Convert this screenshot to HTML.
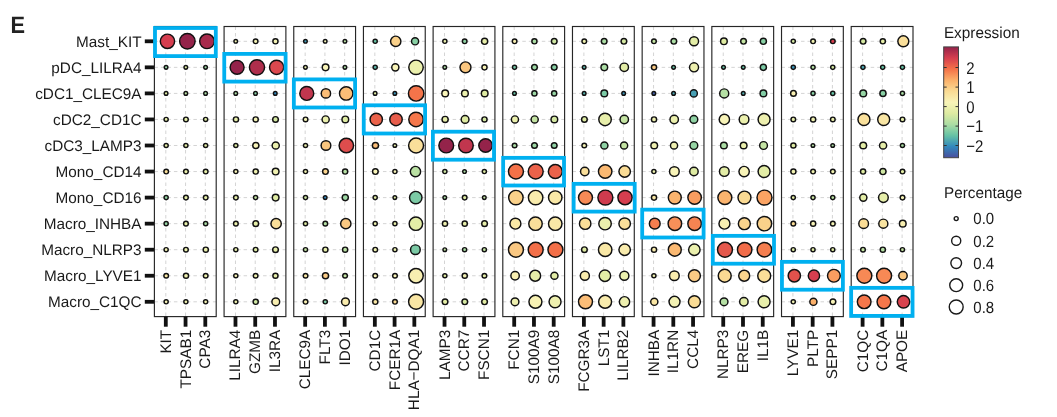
<!DOCTYPE html><html><head><meta charset="utf-8"><style>html,body{margin:0;padding:0;background:#fff;width:1057px;height:417px;overflow:hidden}svg{display:block;will-change:transform}text{font-family:"Liberation Sans",sans-serif;text-rendering:geometricPrecision}</style></head><body>
<svg width="1057" height="417" viewBox="0 0 1057 417">
<text transform="translate(10.60,33.40) scale(0.915,1)" font-size="23.8" font-weight="bold" fill="#222">E</text>
<text transform="translate(141.50,46.70)" font-size="15.3" text-anchor="end" fill="#1a1a1a">Mast_KIT</text>
<rect x="144.8" y="39.40" width="9.6" height="3.8" fill="#111"/>
<text transform="translate(141.50,72.75)" font-size="15.3" text-anchor="end" fill="#1a1a1a">pDC_LILRA4</text>
<rect x="144.8" y="65.45" width="9.6" height="3.8" fill="#111"/>
<text transform="translate(141.50,98.80)" font-size="15.3" text-anchor="end" fill="#1a1a1a">cDC1_CLEC9A</text>
<rect x="144.8" y="91.50" width="9.6" height="3.8" fill="#111"/>
<text transform="translate(141.50,124.85)" font-size="15.3" text-anchor="end" fill="#1a1a1a">cDC2_CD1C</text>
<rect x="144.8" y="117.55" width="9.6" height="3.8" fill="#111"/>
<text transform="translate(141.50,150.90)" font-size="15.3" text-anchor="end" fill="#1a1a1a">cDC3_LAMP3</text>
<rect x="144.8" y="143.60" width="9.6" height="3.8" fill="#111"/>
<text transform="translate(141.50,176.95)" font-size="15.3" text-anchor="end" fill="#1a1a1a">Mono_CD14</text>
<rect x="144.8" y="169.65" width="9.6" height="3.8" fill="#111"/>
<text transform="translate(141.50,203.00)" font-size="15.3" text-anchor="end" fill="#1a1a1a">Mono_CD16</text>
<rect x="144.8" y="195.70" width="9.6" height="3.8" fill="#111"/>
<text transform="translate(141.50,229.05)" font-size="15.3" text-anchor="end" fill="#1a1a1a">Macro_INHBA</text>
<rect x="144.8" y="221.75" width="9.6" height="3.8" fill="#111"/>
<text transform="translate(141.50,255.10)" font-size="15.3" text-anchor="end" fill="#1a1a1a">Macro_NLRP3</text>
<rect x="144.8" y="247.80" width="9.6" height="3.8" fill="#111"/>
<text transform="translate(141.50,281.15)" font-size="15.3" text-anchor="end" fill="#1a1a1a">Macro_LYVE1</text>
<rect x="144.8" y="273.85" width="9.6" height="3.8" fill="#111"/>
<text transform="translate(141.50,307.20)" font-size="15.3" text-anchor="end" fill="#1a1a1a">Macro_C1QC</text>
<rect x="144.8" y="299.90" width="9.6" height="3.8" fill="#111"/>
<line x1="165.80" y1="26.5" x2="165.80" y2="316.6" stroke="#d4d4d4" stroke-width="1" stroke-dasharray="3.5 3"/>
<line x1="185.55" y1="26.5" x2="185.55" y2="316.6" stroke="#d4d4d4" stroke-width="1" stroke-dasharray="3.5 3"/>
<line x1="205.30" y1="26.5" x2="205.30" y2="316.6" stroke="#d4d4d4" stroke-width="1" stroke-dasharray="3.5 3"/>
<line x1="154.40" y1="41.30" x2="216.20" y2="41.30" stroke="#d4d4d4" stroke-width="1" stroke-dasharray="3.5 3"/>
<line x1="154.40" y1="67.35" x2="216.20" y2="67.35" stroke="#d4d4d4" stroke-width="1" stroke-dasharray="3.5 3"/>
<line x1="154.40" y1="93.40" x2="216.20" y2="93.40" stroke="#d4d4d4" stroke-width="1" stroke-dasharray="3.5 3"/>
<line x1="154.40" y1="119.45" x2="216.20" y2="119.45" stroke="#d4d4d4" stroke-width="1" stroke-dasharray="3.5 3"/>
<line x1="154.40" y1="145.50" x2="216.20" y2="145.50" stroke="#d4d4d4" stroke-width="1" stroke-dasharray="3.5 3"/>
<line x1="154.40" y1="171.55" x2="216.20" y2="171.55" stroke="#d4d4d4" stroke-width="1" stroke-dasharray="3.5 3"/>
<line x1="154.40" y1="197.60" x2="216.20" y2="197.60" stroke="#d4d4d4" stroke-width="1" stroke-dasharray="3.5 3"/>
<line x1="154.40" y1="223.65" x2="216.20" y2="223.65" stroke="#d4d4d4" stroke-width="1" stroke-dasharray="3.5 3"/>
<line x1="154.40" y1="249.70" x2="216.20" y2="249.70" stroke="#d4d4d4" stroke-width="1" stroke-dasharray="3.5 3"/>
<line x1="154.40" y1="275.75" x2="216.20" y2="275.75" stroke="#d4d4d4" stroke-width="1" stroke-dasharray="3.5 3"/>
<line x1="154.40" y1="301.80" x2="216.20" y2="301.80" stroke="#d4d4d4" stroke-width="1" stroke-dasharray="3.5 3"/>
<circle cx="167.46" cy="41.30" r="7.17" fill="#d53e4f" stroke="#111" stroke-width="1.45"/>
<circle cx="187.36" cy="41.30" r="7.73" fill="#94234a" stroke="#111" stroke-width="1.45"/>
<circle cx="207.00" cy="41.30" r="7.33" fill="#a82b4c" stroke="#111" stroke-width="1.45"/>
<circle cx="166.07" cy="67.35" r="1.82" fill="#96d5a4" stroke="#111" stroke-width="1.45"/>
<circle cx="185.82" cy="67.35" r="1.82" fill="#deeba2" stroke="#111" stroke-width="1.45"/>
<circle cx="205.57" cy="67.35" r="1.82" fill="#9dd8a4" stroke="#111" stroke-width="1.45"/>
<circle cx="166.07" cy="93.40" r="1.82" fill="#deeba2" stroke="#111" stroke-width="1.45"/>
<circle cx="185.82" cy="93.40" r="1.82" fill="#bae1a3" stroke="#111" stroke-width="1.45"/>
<circle cx="205.57" cy="93.40" r="1.82" fill="#abdda4" stroke="#111" stroke-width="1.45"/>
<circle cx="166.14" cy="119.45" r="2.07" fill="#e6eea9" stroke="#111" stroke-width="1.45"/>
<circle cx="185.95" cy="119.45" r="2.32" fill="#e3eda6" stroke="#111" stroke-width="1.45"/>
<circle cx="205.64" cy="119.45" r="2.07" fill="#deeba2" stroke="#111" stroke-width="1.45"/>
<circle cx="166.14" cy="145.50" r="2.07" fill="#e6eea9" stroke="#111" stroke-width="1.45"/>
<circle cx="185.89" cy="145.50" r="2.07" fill="#e3eda6" stroke="#111" stroke-width="1.45"/>
<circle cx="205.64" cy="145.50" r="2.07" fill="#e3eda6" stroke="#111" stroke-width="1.45"/>
<circle cx="166.20" cy="171.55" r="2.32" fill="#fadf9a" stroke="#111" stroke-width="1.45"/>
<circle cx="185.95" cy="171.55" r="2.32" fill="#ebf0ad" stroke="#111" stroke-width="1.45"/>
<circle cx="205.70" cy="171.55" r="2.32" fill="#e6eea9" stroke="#111" stroke-width="1.45"/>
<circle cx="166.14" cy="197.60" r="2.07" fill="#96d5a4" stroke="#111" stroke-width="1.45"/>
<circle cx="185.95" cy="197.60" r="2.32" fill="#e6eea9" stroke="#111" stroke-width="1.45"/>
<circle cx="205.70" cy="197.60" r="2.32" fill="#e6eea9" stroke="#111" stroke-width="1.45"/>
<circle cx="166.14" cy="223.65" r="2.07" fill="#96d5a4" stroke="#111" stroke-width="1.45"/>
<circle cx="185.95" cy="223.65" r="2.32" fill="#e6eea9" stroke="#111" stroke-width="1.45"/>
<circle cx="205.64" cy="223.65" r="2.07" fill="#abdda4" stroke="#111" stroke-width="1.45"/>
<circle cx="166.14" cy="249.70" r="2.07" fill="#f3f2b4" stroke="#111" stroke-width="1.45"/>
<circle cx="185.95" cy="249.70" r="2.32" fill="#ebf0ad" stroke="#111" stroke-width="1.45"/>
<circle cx="205.77" cy="249.70" r="2.57" fill="#ebf0ad" stroke="#111" stroke-width="1.45"/>
<circle cx="166.20" cy="275.75" r="2.32" fill="#f9e8a6" stroke="#111" stroke-width="1.45"/>
<circle cx="186.02" cy="275.75" r="2.57" fill="#eef0af" stroke="#111" stroke-width="1.45"/>
<circle cx="205.70" cy="275.75" r="2.32" fill="#ebf0ad" stroke="#111" stroke-width="1.45"/>
<circle cx="166.14" cy="301.80" r="2.07" fill="#f8f4b8" stroke="#111" stroke-width="1.45"/>
<circle cx="185.89" cy="301.80" r="2.07" fill="#eef0af" stroke="#111" stroke-width="1.45"/>
<circle cx="205.64" cy="301.80" r="2.07" fill="#f3f2b4" stroke="#111" stroke-width="1.45"/>
<rect x="154.40" y="26.5" width="61.8" height="290.1" fill="none" stroke="#262626" stroke-width="1.15"/>
<rect x="163.90" y="316.6" width="3.8" height="10.1" fill="#111"/>
<text transform="translate(170.80,329.80) rotate(-90)" font-size="15.3" text-anchor="end" fill="#1a1a1a">KIT</text>
<rect x="183.65" y="316.6" width="3.8" height="10.1" fill="#111"/>
<text transform="translate(190.55,329.80) rotate(-90)" font-size="15.3" text-anchor="end" fill="#1a1a1a">TPSAB1</text>
<rect x="203.40" y="316.6" width="3.8" height="10.1" fill="#111"/>
<text transform="translate(210.30,329.80) rotate(-90)" font-size="15.3" text-anchor="end" fill="#1a1a1a">CPA3</text>
<line x1="235.48" y1="26.5" x2="235.48" y2="316.6" stroke="#d4d4d4" stroke-width="1" stroke-dasharray="3.5 3"/>
<line x1="255.23" y1="26.5" x2="255.23" y2="316.6" stroke="#d4d4d4" stroke-width="1" stroke-dasharray="3.5 3"/>
<line x1="274.98" y1="26.5" x2="274.98" y2="316.6" stroke="#d4d4d4" stroke-width="1" stroke-dasharray="3.5 3"/>
<line x1="224.08" y1="41.30" x2="285.88" y2="41.30" stroke="#d4d4d4" stroke-width="1" stroke-dasharray="3.5 3"/>
<line x1="224.08" y1="67.35" x2="285.88" y2="67.35" stroke="#d4d4d4" stroke-width="1" stroke-dasharray="3.5 3"/>
<line x1="224.08" y1="93.40" x2="285.88" y2="93.40" stroke="#d4d4d4" stroke-width="1" stroke-dasharray="3.5 3"/>
<line x1="224.08" y1="119.45" x2="285.88" y2="119.45" stroke="#d4d4d4" stroke-width="1" stroke-dasharray="3.5 3"/>
<line x1="224.08" y1="145.50" x2="285.88" y2="145.50" stroke="#d4d4d4" stroke-width="1" stroke-dasharray="3.5 3"/>
<line x1="224.08" y1="171.55" x2="285.88" y2="171.55" stroke="#d4d4d4" stroke-width="1" stroke-dasharray="3.5 3"/>
<line x1="224.08" y1="197.60" x2="285.88" y2="197.60" stroke="#d4d4d4" stroke-width="1" stroke-dasharray="3.5 3"/>
<line x1="224.08" y1="223.65" x2="285.88" y2="223.65" stroke="#d4d4d4" stroke-width="1" stroke-dasharray="3.5 3"/>
<line x1="224.08" y1="249.70" x2="285.88" y2="249.70" stroke="#d4d4d4" stroke-width="1" stroke-dasharray="3.5 3"/>
<line x1="224.08" y1="275.75" x2="285.88" y2="275.75" stroke="#d4d4d4" stroke-width="1" stroke-dasharray="3.5 3"/>
<line x1="224.08" y1="301.80" x2="285.88" y2="301.80" stroke="#d4d4d4" stroke-width="1" stroke-dasharray="3.5 3"/>
<circle cx="235.75" cy="41.30" r="1.82" fill="#f0f1b1" stroke="#111" stroke-width="1.45"/>
<circle cx="255.63" cy="41.30" r="2.32" fill="#f3f2b4" stroke="#111" stroke-width="1.45"/>
<circle cx="275.45" cy="41.30" r="2.57" fill="#f3f2b4" stroke="#111" stroke-width="1.45"/>
<circle cx="237.09" cy="67.35" r="6.98" fill="#94234a" stroke="#111" stroke-width="1.45"/>
<circle cx="257.00" cy="67.35" r="7.58" fill="#ae2e4c" stroke="#111" stroke-width="1.45"/>
<circle cx="276.62" cy="67.35" r="7.08" fill="#db484e" stroke="#111" stroke-width="1.45"/>
<circle cx="235.75" cy="93.40" r="1.82" fill="#abdda4" stroke="#111" stroke-width="1.45"/>
<circle cx="255.50" cy="93.40" r="1.82" fill="#88d0a4" stroke="#111" stroke-width="1.45"/>
<circle cx="275.25" cy="93.40" r="1.82" fill="#3288bd" stroke="#111" stroke-width="1.45"/>
<circle cx="235.95" cy="119.45" r="2.57" fill="#e6eea9" stroke="#111" stroke-width="1.45"/>
<circle cx="255.70" cy="119.45" r="2.57" fill="#f3f2b4" stroke="#111" stroke-width="1.45"/>
<circle cx="275.51" cy="119.45" r="2.82" fill="#d4e8a2" stroke="#111" stroke-width="1.45"/>
<circle cx="235.82" cy="145.50" r="2.07" fill="#deeba2" stroke="#111" stroke-width="1.45"/>
<circle cx="255.83" cy="145.50" r="3.07" fill="#f8f4b8" stroke="#111" stroke-width="1.45"/>
<circle cx="275.71" cy="145.50" r="3.57" fill="#ebf0ad" stroke="#111" stroke-width="1.45"/>
<circle cx="235.82" cy="171.55" r="2.07" fill="#f8f4b8" stroke="#111" stroke-width="1.45"/>
<circle cx="255.70" cy="171.55" r="2.57" fill="#eef0af" stroke="#111" stroke-width="1.45"/>
<circle cx="275.64" cy="171.55" r="3.32" fill="#f0f1b1" stroke="#111" stroke-width="1.45"/>
<circle cx="235.88" cy="197.60" r="2.32" fill="#e6eea9" stroke="#111" stroke-width="1.45"/>
<circle cx="255.57" cy="197.60" r="2.07" fill="#c4e4a3" stroke="#111" stroke-width="1.45"/>
<circle cx="275.64" cy="197.60" r="3.32" fill="#deeba2" stroke="#111" stroke-width="1.45"/>
<circle cx="235.88" cy="223.65" r="2.32" fill="#ebf0ad" stroke="#111" stroke-width="1.45"/>
<circle cx="255.76" cy="223.65" r="2.82" fill="#e3eda6" stroke="#111" stroke-width="1.45"/>
<circle cx="276.12" cy="223.65" r="5.16" fill="#fadf9a" stroke="#111" stroke-width="1.45"/>
<circle cx="235.82" cy="249.70" r="2.07" fill="#e6eea9" stroke="#111" stroke-width="1.45"/>
<circle cx="255.63" cy="249.70" r="2.32" fill="#deeba2" stroke="#111" stroke-width="1.45"/>
<circle cx="275.51" cy="249.70" r="2.82" fill="#e6eea9" stroke="#111" stroke-width="1.45"/>
<circle cx="235.82" cy="275.75" r="2.07" fill="#f8f4b8" stroke="#111" stroke-width="1.45"/>
<circle cx="255.63" cy="275.75" r="2.32" fill="#eef0af" stroke="#111" stroke-width="1.45"/>
<circle cx="275.45" cy="275.75" r="2.57" fill="#e6eea9" stroke="#111" stroke-width="1.45"/>
<circle cx="235.82" cy="301.80" r="2.07" fill="#eef0af" stroke="#111" stroke-width="1.45"/>
<circle cx="255.70" cy="301.80" r="2.57" fill="#cfe7a3" stroke="#111" stroke-width="1.45"/>
<circle cx="275.79" cy="301.80" r="3.89" fill="#f8efb1" stroke="#111" stroke-width="1.45"/>
<rect x="224.08" y="26.5" width="61.8" height="290.1" fill="none" stroke="#262626" stroke-width="1.15"/>
<rect x="233.58" y="316.6" width="3.8" height="10.1" fill="#111"/>
<text transform="translate(240.48,329.80) rotate(-90)" font-size="15.3" text-anchor="end" fill="#1a1a1a">LILRA4</text>
<rect x="253.33" y="316.6" width="3.8" height="10.1" fill="#111"/>
<text transform="translate(260.23,329.80) rotate(-90)" font-size="15.3" text-anchor="end" fill="#1a1a1a">GZMB</text>
<rect x="273.08" y="316.6" width="3.8" height="10.1" fill="#111"/>
<text transform="translate(279.98,329.80) rotate(-90)" font-size="15.3" text-anchor="end" fill="#1a1a1a">IL3RA</text>
<line x1="305.16" y1="26.5" x2="305.16" y2="316.6" stroke="#d4d4d4" stroke-width="1" stroke-dasharray="3.5 3"/>
<line x1="324.91" y1="26.5" x2="324.91" y2="316.6" stroke="#d4d4d4" stroke-width="1" stroke-dasharray="3.5 3"/>
<line x1="344.66" y1="26.5" x2="344.66" y2="316.6" stroke="#d4d4d4" stroke-width="1" stroke-dasharray="3.5 3"/>
<line x1="293.76" y1="41.30" x2="355.56" y2="41.30" stroke="#d4d4d4" stroke-width="1" stroke-dasharray="3.5 3"/>
<line x1="293.76" y1="67.35" x2="355.56" y2="67.35" stroke="#d4d4d4" stroke-width="1" stroke-dasharray="3.5 3"/>
<line x1="293.76" y1="93.40" x2="355.56" y2="93.40" stroke="#d4d4d4" stroke-width="1" stroke-dasharray="3.5 3"/>
<line x1="293.76" y1="119.45" x2="355.56" y2="119.45" stroke="#d4d4d4" stroke-width="1" stroke-dasharray="3.5 3"/>
<line x1="293.76" y1="145.50" x2="355.56" y2="145.50" stroke="#d4d4d4" stroke-width="1" stroke-dasharray="3.5 3"/>
<line x1="293.76" y1="171.55" x2="355.56" y2="171.55" stroke="#d4d4d4" stroke-width="1" stroke-dasharray="3.5 3"/>
<line x1="293.76" y1="197.60" x2="355.56" y2="197.60" stroke="#d4d4d4" stroke-width="1" stroke-dasharray="3.5 3"/>
<line x1="293.76" y1="223.65" x2="355.56" y2="223.65" stroke="#d4d4d4" stroke-width="1" stroke-dasharray="3.5 3"/>
<line x1="293.76" y1="249.70" x2="355.56" y2="249.70" stroke="#d4d4d4" stroke-width="1" stroke-dasharray="3.5 3"/>
<line x1="293.76" y1="275.75" x2="355.56" y2="275.75" stroke="#d4d4d4" stroke-width="1" stroke-dasharray="3.5 3"/>
<line x1="293.76" y1="301.80" x2="355.56" y2="301.80" stroke="#d4d4d4" stroke-width="1" stroke-dasharray="3.5 3"/>
<circle cx="305.43" cy="41.30" r="1.82" fill="#4299b6" stroke="#111" stroke-width="1.45"/>
<circle cx="325.18" cy="41.30" r="1.82" fill="#f3f2b4" stroke="#111" stroke-width="1.45"/>
<circle cx="344.93" cy="41.30" r="1.82" fill="#bae1a3" stroke="#111" stroke-width="1.45"/>
<circle cx="305.43" cy="67.35" r="1.82" fill="#ebf0ad" stroke="#111" stroke-width="1.45"/>
<circle cx="325.57" cy="67.35" r="3.32" fill="#f8f4b8" stroke="#111" stroke-width="1.45"/>
<circle cx="344.93" cy="67.35" r="1.82" fill="#abdda4" stroke="#111" stroke-width="1.45"/>
<circle cx="306.77" cy="93.40" r="6.98" fill="#c1364e" stroke="#111" stroke-width="1.45"/>
<circle cx="325.92" cy="93.40" r="4.67" fill="#fbbd77" stroke="#111" stroke-width="1.45"/>
<circle cx="346.21" cy="93.40" r="6.73" fill="#fbbd77" stroke="#111" stroke-width="1.45"/>
<circle cx="305.56" cy="119.45" r="2.32" fill="#f3f2b4" stroke="#111" stroke-width="1.45"/>
<circle cx="325.64" cy="119.45" r="3.57" fill="#ebf0ad" stroke="#111" stroke-width="1.45"/>
<circle cx="345.32" cy="119.45" r="3.32" fill="#deeba2" stroke="#111" stroke-width="1.45"/>
<circle cx="305.50" cy="145.50" r="2.07" fill="#ebf0ad" stroke="#111" stroke-width="1.45"/>
<circle cx="325.97" cy="145.50" r="4.84" fill="#fac67f" stroke="#111" stroke-width="1.45"/>
<circle cx="346.34" cy="145.50" r="7.23" fill="#de4d4d" stroke="#111" stroke-width="1.45"/>
<circle cx="305.50" cy="171.55" r="2.07" fill="#f0f1b1" stroke="#111" stroke-width="1.45"/>
<circle cx="325.44" cy="171.55" r="2.82" fill="#fad48d" stroke="#111" stroke-width="1.45"/>
<circle cx="345.13" cy="171.55" r="2.57" fill="#b5e0a4" stroke="#111" stroke-width="1.45"/>
<circle cx="305.50" cy="197.60" r="2.07" fill="#cfe7a3" stroke="#111" stroke-width="1.45"/>
<circle cx="325.18" cy="197.60" r="1.82" fill="#3288bd" stroke="#111" stroke-width="1.45"/>
<circle cx="345.26" cy="197.60" r="3.07" fill="#9dd8a4" stroke="#111" stroke-width="1.45"/>
<circle cx="305.50" cy="223.65" r="2.07" fill="#deeba2" stroke="#111" stroke-width="1.45"/>
<circle cx="325.31" cy="223.65" r="2.32" fill="#b5e0a4" stroke="#111" stroke-width="1.45"/>
<circle cx="345.80" cy="223.65" r="5.16" fill="#fac882" stroke="#111" stroke-width="1.45"/>
<circle cx="305.50" cy="249.70" r="2.07" fill="#c4e4a3" stroke="#111" stroke-width="1.45"/>
<circle cx="325.38" cy="249.70" r="2.57" fill="#e6eea9" stroke="#111" stroke-width="1.45"/>
<circle cx="345.13" cy="249.70" r="2.57" fill="#bae1a3" stroke="#111" stroke-width="1.45"/>
<circle cx="305.56" cy="275.75" r="2.32" fill="#f9e8a6" stroke="#111" stroke-width="1.45"/>
<circle cx="325.51" cy="275.75" r="3.07" fill="#facb85" stroke="#111" stroke-width="1.45"/>
<circle cx="345.06" cy="275.75" r="2.32" fill="#c4e4a3" stroke="#111" stroke-width="1.45"/>
<circle cx="305.56" cy="301.80" r="2.32" fill="#f8efb1" stroke="#111" stroke-width="1.45"/>
<circle cx="325.25" cy="301.80" r="2.07" fill="#7bcaa5" stroke="#111" stroke-width="1.45"/>
<circle cx="345.47" cy="301.80" r="3.89" fill="#f9ecad" stroke="#111" stroke-width="1.45"/>
<rect x="293.76" y="26.5" width="61.8" height="290.1" fill="none" stroke="#262626" stroke-width="1.15"/>
<rect x="303.26" y="316.6" width="3.8" height="10.1" fill="#111"/>
<text transform="translate(310.16,329.80) rotate(-90)" font-size="15.3" text-anchor="end" fill="#1a1a1a">CLEC9A</text>
<rect x="323.01" y="316.6" width="3.8" height="10.1" fill="#111"/>
<text transform="translate(329.91,329.80) rotate(-90)" font-size="15.3" text-anchor="end" fill="#1a1a1a">FLT3</text>
<rect x="342.76" y="316.6" width="3.8" height="10.1" fill="#111"/>
<text transform="translate(349.66,329.80) rotate(-90)" font-size="15.3" text-anchor="end" fill="#1a1a1a">IDO1</text>
<line x1="374.84" y1="26.5" x2="374.84" y2="316.6" stroke="#d4d4d4" stroke-width="1" stroke-dasharray="3.5 3"/>
<line x1="394.59" y1="26.5" x2="394.59" y2="316.6" stroke="#d4d4d4" stroke-width="1" stroke-dasharray="3.5 3"/>
<line x1="414.34" y1="26.5" x2="414.34" y2="316.6" stroke="#d4d4d4" stroke-width="1" stroke-dasharray="3.5 3"/>
<line x1="363.44" y1="41.30" x2="425.24" y2="41.30" stroke="#d4d4d4" stroke-width="1" stroke-dasharray="3.5 3"/>
<line x1="363.44" y1="67.35" x2="425.24" y2="67.35" stroke="#d4d4d4" stroke-width="1" stroke-dasharray="3.5 3"/>
<line x1="363.44" y1="93.40" x2="425.24" y2="93.40" stroke="#d4d4d4" stroke-width="1" stroke-dasharray="3.5 3"/>
<line x1="363.44" y1="119.45" x2="425.24" y2="119.45" stroke="#d4d4d4" stroke-width="1" stroke-dasharray="3.5 3"/>
<line x1="363.44" y1="145.50" x2="425.24" y2="145.50" stroke="#d4d4d4" stroke-width="1" stroke-dasharray="3.5 3"/>
<line x1="363.44" y1="171.55" x2="425.24" y2="171.55" stroke="#d4d4d4" stroke-width="1" stroke-dasharray="3.5 3"/>
<line x1="363.44" y1="197.60" x2="425.24" y2="197.60" stroke="#d4d4d4" stroke-width="1" stroke-dasharray="3.5 3"/>
<line x1="363.44" y1="223.65" x2="425.24" y2="223.65" stroke="#d4d4d4" stroke-width="1" stroke-dasharray="3.5 3"/>
<line x1="363.44" y1="249.70" x2="425.24" y2="249.70" stroke="#d4d4d4" stroke-width="1" stroke-dasharray="3.5 3"/>
<line x1="363.44" y1="275.75" x2="425.24" y2="275.75" stroke="#d4d4d4" stroke-width="1" stroke-dasharray="3.5 3"/>
<line x1="363.44" y1="301.80" x2="425.24" y2="301.80" stroke="#d4d4d4" stroke-width="1" stroke-dasharray="3.5 3"/>
<circle cx="375.18" cy="41.30" r="2.07" fill="#66c2a5" stroke="#111" stroke-width="1.45"/>
<circle cx="395.73" cy="41.30" r="5.16" fill="#fad18a" stroke="#111" stroke-width="1.45"/>
<circle cx="415.07" cy="41.30" r="3.57" fill="#88d0a4" stroke="#111" stroke-width="1.45"/>
<circle cx="375.18" cy="67.35" r="2.07" fill="#5cb6aa" stroke="#111" stroke-width="1.45"/>
<circle cx="395.32" cy="67.35" r="3.57" fill="#f8f4b8" stroke="#111" stroke-width="1.45"/>
<circle cx="416.02" cy="67.35" r="7.23" fill="#ebf0ad" stroke="#111" stroke-width="1.45"/>
<circle cx="375.11" cy="93.40" r="1.82" fill="#deeba2" stroke="#111" stroke-width="1.45"/>
<circle cx="394.86" cy="93.40" r="1.82" fill="#3c94b8" stroke="#111" stroke-width="1.45"/>
<circle cx="416.15" cy="93.40" r="7.73" fill="#f4744a" stroke="#111" stroke-width="1.45"/>
<circle cx="376.24" cy="119.45" r="6.17" fill="#eb624a" stroke="#111" stroke-width="1.45"/>
<circle cx="396.01" cy="119.45" r="6.23" fill="#e85d4b" stroke="#111" stroke-width="1.45"/>
<circle cx="416.02" cy="119.45" r="7.23" fill="#f5774b" stroke="#111" stroke-width="1.45"/>
<circle cx="375.44" cy="145.50" r="3.07" fill="#fbbd77" stroke="#111" stroke-width="1.45"/>
<circle cx="394.86" cy="145.50" r="1.82" fill="#e6eea9" stroke="#111" stroke-width="1.45"/>
<circle cx="416.08" cy="145.50" r="7.48" fill="#fadf9a" stroke="#111" stroke-width="1.45"/>
<circle cx="375.37" cy="171.55" r="2.82" fill="#f8f4b8" stroke="#111" stroke-width="1.45"/>
<circle cx="394.93" cy="171.55" r="2.07" fill="#f8f4b8" stroke="#111" stroke-width="1.45"/>
<circle cx="415.48" cy="171.55" r="5.16" fill="#bae1a3" stroke="#111" stroke-width="1.45"/>
<circle cx="375.18" cy="197.60" r="2.07" fill="#e3eda6" stroke="#111" stroke-width="1.45"/>
<circle cx="394.86" cy="197.60" r="1.82" fill="#deeba2" stroke="#111" stroke-width="1.45"/>
<circle cx="415.76" cy="197.60" r="6.23" fill="#7bcaa5" stroke="#111" stroke-width="1.45"/>
<circle cx="375.18" cy="223.65" r="2.07" fill="#ebf0ad" stroke="#111" stroke-width="1.45"/>
<circle cx="394.93" cy="223.65" r="2.07" fill="#e6eea9" stroke="#111" stroke-width="1.45"/>
<circle cx="415.89" cy="223.65" r="6.73" fill="#e3eda6" stroke="#111" stroke-width="1.45"/>
<circle cx="375.24" cy="249.70" r="2.32" fill="#eef0af" stroke="#111" stroke-width="1.45"/>
<circle cx="394.93" cy="249.70" r="2.07" fill="#ebf0ad" stroke="#111" stroke-width="1.45"/>
<circle cx="415.40" cy="249.70" r="4.84" fill="#7bcaa5" stroke="#111" stroke-width="1.45"/>
<circle cx="375.24" cy="275.75" r="2.32" fill="#f8f4b8" stroke="#111" stroke-width="1.45"/>
<circle cx="394.99" cy="275.75" r="2.32" fill="#f8f4b8" stroke="#111" stroke-width="1.45"/>
<circle cx="416.02" cy="275.75" r="7.23" fill="#f8efb1" stroke="#111" stroke-width="1.45"/>
<circle cx="375.31" cy="301.80" r="2.57" fill="#f9e6a4" stroke="#111" stroke-width="1.45"/>
<circle cx="394.99" cy="301.80" r="2.32" fill="#fada93" stroke="#111" stroke-width="1.45"/>
<circle cx="416.08" cy="301.80" r="7.48" fill="#f9e6a4" stroke="#111" stroke-width="1.45"/>
<rect x="363.44" y="26.5" width="61.8" height="290.1" fill="none" stroke="#262626" stroke-width="1.15"/>
<rect x="372.94" y="316.6" width="3.8" height="10.1" fill="#111"/>
<text transform="translate(379.84,329.80) rotate(-90)" font-size="15.3" text-anchor="end" fill="#1a1a1a">CD1C</text>
<rect x="392.69" y="316.6" width="3.8" height="10.1" fill="#111"/>
<text transform="translate(399.59,329.80) rotate(-90)" font-size="15.3" text-anchor="end" fill="#1a1a1a">FCER1A</text>
<rect x="412.44" y="316.6" width="3.8" height="10.1" fill="#111"/>
<text transform="translate(419.34,329.80) rotate(-90)" font-size="15.3" text-anchor="end" fill="#1a1a1a">HLA−DQA1</text>
<line x1="444.52" y1="26.5" x2="444.52" y2="316.6" stroke="#d4d4d4" stroke-width="1" stroke-dasharray="3.5 3"/>
<line x1="464.27" y1="26.5" x2="464.27" y2="316.6" stroke="#d4d4d4" stroke-width="1" stroke-dasharray="3.5 3"/>
<line x1="484.02" y1="26.5" x2="484.02" y2="316.6" stroke="#d4d4d4" stroke-width="1" stroke-dasharray="3.5 3"/>
<line x1="433.12" y1="41.30" x2="494.92" y2="41.30" stroke="#d4d4d4" stroke-width="1" stroke-dasharray="3.5 3"/>
<line x1="433.12" y1="67.35" x2="494.92" y2="67.35" stroke="#d4d4d4" stroke-width="1" stroke-dasharray="3.5 3"/>
<line x1="433.12" y1="93.40" x2="494.92" y2="93.40" stroke="#d4d4d4" stroke-width="1" stroke-dasharray="3.5 3"/>
<line x1="433.12" y1="119.45" x2="494.92" y2="119.45" stroke="#d4d4d4" stroke-width="1" stroke-dasharray="3.5 3"/>
<line x1="433.12" y1="145.50" x2="494.92" y2="145.50" stroke="#d4d4d4" stroke-width="1" stroke-dasharray="3.5 3"/>
<line x1="433.12" y1="171.55" x2="494.92" y2="171.55" stroke="#d4d4d4" stroke-width="1" stroke-dasharray="3.5 3"/>
<line x1="433.12" y1="197.60" x2="494.92" y2="197.60" stroke="#d4d4d4" stroke-width="1" stroke-dasharray="3.5 3"/>
<line x1="433.12" y1="223.65" x2="494.92" y2="223.65" stroke="#d4d4d4" stroke-width="1" stroke-dasharray="3.5 3"/>
<line x1="433.12" y1="249.70" x2="494.92" y2="249.70" stroke="#d4d4d4" stroke-width="1" stroke-dasharray="3.5 3"/>
<line x1="433.12" y1="275.75" x2="494.92" y2="275.75" stroke="#d4d4d4" stroke-width="1" stroke-dasharray="3.5 3"/>
<line x1="433.12" y1="301.80" x2="494.92" y2="301.80" stroke="#d4d4d4" stroke-width="1" stroke-dasharray="3.5 3"/>
<circle cx="444.86" cy="41.30" r="2.07" fill="#ebf0ad" stroke="#111" stroke-width="1.45"/>
<circle cx="464.67" cy="41.30" r="2.32" fill="#8fd2a4" stroke="#111" stroke-width="1.45"/>
<circle cx="484.62" cy="41.30" r="3.07" fill="#e6eea9" stroke="#111" stroke-width="1.45"/>
<circle cx="444.79" cy="67.35" r="1.82" fill="#abdda4" stroke="#111" stroke-width="1.45"/>
<circle cx="465.49" cy="67.35" r="5.48" fill="#fac67f" stroke="#111" stroke-width="1.45"/>
<circle cx="484.49" cy="67.35" r="2.57" fill="#f8f4b8" stroke="#111" stroke-width="1.45"/>
<circle cx="445.18" cy="93.40" r="3.32" fill="#f8f4b8" stroke="#111" stroke-width="1.45"/>
<circle cx="464.93" cy="93.40" r="3.32" fill="#ebf0ad" stroke="#111" stroke-width="1.45"/>
<circle cx="484.68" cy="93.40" r="3.32" fill="#deeba2" stroke="#111" stroke-width="1.45"/>
<circle cx="445.12" cy="119.45" r="3.07" fill="#e6eea9" stroke="#111" stroke-width="1.45"/>
<circle cx="465.08" cy="119.45" r="3.89" fill="#deeba2" stroke="#111" stroke-width="1.45"/>
<circle cx="484.49" cy="119.45" r="2.57" fill="#d4e8a2" stroke="#111" stroke-width="1.45"/>
<circle cx="446.24" cy="145.50" r="7.38" fill="#94234a" stroke="#111" stroke-width="1.45"/>
<circle cx="465.96" cy="145.50" r="7.28" fill="#c1364e" stroke="#111" stroke-width="1.45"/>
<circle cx="485.58" cy="145.50" r="6.78" fill="#94234a" stroke="#111" stroke-width="1.45"/>
<circle cx="444.86" cy="171.55" r="2.07" fill="#cfe7a3" stroke="#111" stroke-width="1.45"/>
<circle cx="464.54" cy="171.55" r="1.82" fill="#abdda4" stroke="#111" stroke-width="1.45"/>
<circle cx="484.36" cy="171.55" r="2.07" fill="#deeba2" stroke="#111" stroke-width="1.45"/>
<circle cx="444.79" cy="197.60" r="1.82" fill="#abdda4" stroke="#111" stroke-width="1.45"/>
<circle cx="464.67" cy="197.60" r="2.32" fill="#deeba2" stroke="#111" stroke-width="1.45"/>
<circle cx="484.29" cy="197.60" r="1.82" fill="#c4e4a3" stroke="#111" stroke-width="1.45"/>
<circle cx="444.99" cy="223.65" r="2.57" fill="#eef0af" stroke="#111" stroke-width="1.45"/>
<circle cx="464.74" cy="223.65" r="2.57" fill="#e6eea9" stroke="#111" stroke-width="1.45"/>
<circle cx="484.55" cy="223.65" r="2.82" fill="#e6eea9" stroke="#111" stroke-width="1.45"/>
<circle cx="444.79" cy="249.70" r="1.82" fill="#c4e4a3" stroke="#111" stroke-width="1.45"/>
<circle cx="464.61" cy="249.70" r="2.07" fill="#abdda4" stroke="#111" stroke-width="1.45"/>
<circle cx="484.36" cy="249.70" r="2.07" fill="#c4e4a3" stroke="#111" stroke-width="1.45"/>
<circle cx="444.86" cy="275.75" r="2.07" fill="#deeba2" stroke="#111" stroke-width="1.45"/>
<circle cx="464.74" cy="275.75" r="2.57" fill="#f3f2b4" stroke="#111" stroke-width="1.45"/>
<circle cx="484.42" cy="275.75" r="2.32" fill="#e3eda6" stroke="#111" stroke-width="1.45"/>
<circle cx="445.05" cy="301.80" r="2.82" fill="#e3eda6" stroke="#111" stroke-width="1.45"/>
<circle cx="464.80" cy="301.80" r="2.82" fill="#d4e8a2" stroke="#111" stroke-width="1.45"/>
<circle cx="484.55" cy="301.80" r="2.82" fill="#e1eca4" stroke="#111" stroke-width="1.45"/>
<rect x="433.12" y="26.5" width="61.8" height="290.1" fill="none" stroke="#262626" stroke-width="1.15"/>
<rect x="442.62" y="316.6" width="3.8" height="10.1" fill="#111"/>
<text transform="translate(449.52,329.80) rotate(-90)" font-size="15.3" text-anchor="end" fill="#1a1a1a">LAMP3</text>
<rect x="462.37" y="316.6" width="3.8" height="10.1" fill="#111"/>
<text transform="translate(469.27,329.80) rotate(-90)" font-size="15.3" text-anchor="end" fill="#1a1a1a">CCR7</text>
<rect x="482.12" y="316.6" width="3.8" height="10.1" fill="#111"/>
<text transform="translate(489.02,329.80) rotate(-90)" font-size="15.3" text-anchor="end" fill="#1a1a1a">FSCN1</text>
<line x1="514.20" y1="26.5" x2="514.20" y2="316.6" stroke="#d4d4d4" stroke-width="1" stroke-dasharray="3.5 3"/>
<line x1="533.95" y1="26.5" x2="533.95" y2="316.6" stroke="#d4d4d4" stroke-width="1" stroke-dasharray="3.5 3"/>
<line x1="553.70" y1="26.5" x2="553.70" y2="316.6" stroke="#d4d4d4" stroke-width="1" stroke-dasharray="3.5 3"/>
<line x1="502.80" y1="41.30" x2="564.60" y2="41.30" stroke="#d4d4d4" stroke-width="1" stroke-dasharray="3.5 3"/>
<line x1="502.80" y1="67.35" x2="564.60" y2="67.35" stroke="#d4d4d4" stroke-width="1" stroke-dasharray="3.5 3"/>
<line x1="502.80" y1="93.40" x2="564.60" y2="93.40" stroke="#d4d4d4" stroke-width="1" stroke-dasharray="3.5 3"/>
<line x1="502.80" y1="119.45" x2="564.60" y2="119.45" stroke="#d4d4d4" stroke-width="1" stroke-dasharray="3.5 3"/>
<line x1="502.80" y1="145.50" x2="564.60" y2="145.50" stroke="#d4d4d4" stroke-width="1" stroke-dasharray="3.5 3"/>
<line x1="502.80" y1="171.55" x2="564.60" y2="171.55" stroke="#d4d4d4" stroke-width="1" stroke-dasharray="3.5 3"/>
<line x1="502.80" y1="197.60" x2="564.60" y2="197.60" stroke="#d4d4d4" stroke-width="1" stroke-dasharray="3.5 3"/>
<line x1="502.80" y1="223.65" x2="564.60" y2="223.65" stroke="#d4d4d4" stroke-width="1" stroke-dasharray="3.5 3"/>
<line x1="502.80" y1="249.70" x2="564.60" y2="249.70" stroke="#d4d4d4" stroke-width="1" stroke-dasharray="3.5 3"/>
<line x1="502.80" y1="275.75" x2="564.60" y2="275.75" stroke="#d4d4d4" stroke-width="1" stroke-dasharray="3.5 3"/>
<line x1="502.80" y1="301.80" x2="564.60" y2="301.80" stroke="#d4d4d4" stroke-width="1" stroke-dasharray="3.5 3"/>
<circle cx="514.60" cy="41.30" r="2.32" fill="#f8efb1" stroke="#111" stroke-width="1.45"/>
<circle cx="534.42" cy="41.30" r="2.57" fill="#abdda4" stroke="#111" stroke-width="1.45"/>
<circle cx="554.23" cy="41.30" r="2.82" fill="#cfe7a3" stroke="#111" stroke-width="1.45"/>
<circle cx="514.54" cy="67.35" r="2.07" fill="#74c7a5" stroke="#111" stroke-width="1.45"/>
<circle cx="534.48" cy="67.35" r="2.82" fill="#9dd8a4" stroke="#111" stroke-width="1.45"/>
<circle cx="554.23" cy="67.35" r="2.82" fill="#88d0a4" stroke="#111" stroke-width="1.45"/>
<circle cx="514.47" cy="93.40" r="1.82" fill="#66c2a5" stroke="#111" stroke-width="1.45"/>
<circle cx="534.42" cy="93.40" r="2.57" fill="#9dd8a4" stroke="#111" stroke-width="1.45"/>
<circle cx="554.17" cy="93.40" r="2.57" fill="#96d5a4" stroke="#111" stroke-width="1.45"/>
<circle cx="514.93" cy="119.45" r="3.57" fill="#ebf0ad" stroke="#111" stroke-width="1.45"/>
<circle cx="534.68" cy="119.45" r="3.57" fill="#c4e4a3" stroke="#111" stroke-width="1.45"/>
<circle cx="554.36" cy="119.45" r="3.32" fill="#d4e8a2" stroke="#111" stroke-width="1.45"/>
<circle cx="514.60" cy="145.50" r="2.32" fill="#abdda4" stroke="#111" stroke-width="1.45"/>
<circle cx="534.48" cy="145.50" r="2.82" fill="#9dd8a4" stroke="#111" stroke-width="1.45"/>
<circle cx="554.23" cy="145.50" r="2.82" fill="#8fd2a4" stroke="#111" stroke-width="1.45"/>
<circle cx="515.94" cy="171.55" r="7.48" fill="#f47148" stroke="#111" stroke-width="1.45"/>
<circle cx="535.69" cy="171.55" r="7.48" fill="#eb624a" stroke="#111" stroke-width="1.45"/>
<circle cx="555.31" cy="171.55" r="6.98" fill="#eb624a" stroke="#111" stroke-width="1.45"/>
<circle cx="515.88" cy="197.60" r="7.23" fill="#fad18a" stroke="#111" stroke-width="1.45"/>
<circle cx="535.63" cy="197.60" r="7.23" fill="#f9ecad" stroke="#111" stroke-width="1.45"/>
<circle cx="555.25" cy="197.60" r="6.73" fill="#f9e8a6" stroke="#111" stroke-width="1.45"/>
<circle cx="515.42" cy="223.65" r="5.48" fill="#f9e8a6" stroke="#111" stroke-width="1.45"/>
<circle cx="535.50" cy="223.65" r="6.73" fill="#fadf9a" stroke="#111" stroke-width="1.45"/>
<circle cx="555.25" cy="223.65" r="6.73" fill="#f9e8a6" stroke="#111" stroke-width="1.45"/>
<circle cx="515.94" cy="249.70" r="7.48" fill="#fac882" stroke="#111" stroke-width="1.45"/>
<circle cx="535.69" cy="249.70" r="7.48" fill="#f36f48" stroke="#111" stroke-width="1.45"/>
<circle cx="555.44" cy="249.70" r="7.48" fill="#f36f48" stroke="#111" stroke-width="1.45"/>
<circle cx="515.09" cy="275.75" r="4.21" fill="#f8efb1" stroke="#111" stroke-width="1.45"/>
<circle cx="535.17" cy="275.75" r="5.48" fill="#e6eea9" stroke="#111" stroke-width="1.45"/>
<circle cx="554.43" cy="275.75" r="3.57" fill="#e3eda6" stroke="#111" stroke-width="1.45"/>
<circle cx="515.01" cy="301.80" r="3.89" fill="#eef0af" stroke="#111" stroke-width="1.45"/>
<circle cx="535.43" cy="301.80" r="6.48" fill="#f8f2b4" stroke="#111" stroke-width="1.45"/>
<circle cx="555.05" cy="301.80" r="5.98" fill="#eef0af" stroke="#111" stroke-width="1.45"/>
<rect x="502.80" y="26.5" width="61.8" height="290.1" fill="none" stroke="#262626" stroke-width="1.15"/>
<rect x="512.30" y="316.6" width="3.8" height="10.1" fill="#111"/>
<text transform="translate(519.20,329.80) rotate(-90)" font-size="15.3" text-anchor="end" fill="#1a1a1a">FCN1</text>
<rect x="532.05" y="316.6" width="3.8" height="10.1" fill="#111"/>
<text transform="translate(538.95,329.80) rotate(-90)" font-size="15.3" text-anchor="end" fill="#1a1a1a">S100A9</text>
<rect x="551.80" y="316.6" width="3.8" height="10.1" fill="#111"/>
<text transform="translate(558.70,329.80) rotate(-90)" font-size="15.3" text-anchor="end" fill="#1a1a1a">S100A8</text>
<line x1="583.88" y1="26.5" x2="583.88" y2="316.6" stroke="#d4d4d4" stroke-width="1" stroke-dasharray="3.5 3"/>
<line x1="603.63" y1="26.5" x2="603.63" y2="316.6" stroke="#d4d4d4" stroke-width="1" stroke-dasharray="3.5 3"/>
<line x1="623.38" y1="26.5" x2="623.38" y2="316.6" stroke="#d4d4d4" stroke-width="1" stroke-dasharray="3.5 3"/>
<line x1="572.48" y1="41.30" x2="634.28" y2="41.30" stroke="#d4d4d4" stroke-width="1" stroke-dasharray="3.5 3"/>
<line x1="572.48" y1="67.35" x2="634.28" y2="67.35" stroke="#d4d4d4" stroke-width="1" stroke-dasharray="3.5 3"/>
<line x1="572.48" y1="93.40" x2="634.28" y2="93.40" stroke="#d4d4d4" stroke-width="1" stroke-dasharray="3.5 3"/>
<line x1="572.48" y1="119.45" x2="634.28" y2="119.45" stroke="#d4d4d4" stroke-width="1" stroke-dasharray="3.5 3"/>
<line x1="572.48" y1="145.50" x2="634.28" y2="145.50" stroke="#d4d4d4" stroke-width="1" stroke-dasharray="3.5 3"/>
<line x1="572.48" y1="171.55" x2="634.28" y2="171.55" stroke="#d4d4d4" stroke-width="1" stroke-dasharray="3.5 3"/>
<line x1="572.48" y1="197.60" x2="634.28" y2="197.60" stroke="#d4d4d4" stroke-width="1" stroke-dasharray="3.5 3"/>
<line x1="572.48" y1="223.65" x2="634.28" y2="223.65" stroke="#d4d4d4" stroke-width="1" stroke-dasharray="3.5 3"/>
<line x1="572.48" y1="249.70" x2="634.28" y2="249.70" stroke="#d4d4d4" stroke-width="1" stroke-dasharray="3.5 3"/>
<line x1="572.48" y1="275.75" x2="634.28" y2="275.75" stroke="#d4d4d4" stroke-width="1" stroke-dasharray="3.5 3"/>
<line x1="572.48" y1="301.80" x2="634.28" y2="301.80" stroke="#d4d4d4" stroke-width="1" stroke-dasharray="3.5 3"/>
<circle cx="584.28" cy="41.30" r="2.32" fill="#eef0af" stroke="#111" stroke-width="1.45"/>
<circle cx="604.16" cy="41.30" r="2.82" fill="#abdda4" stroke="#111" stroke-width="1.45"/>
<circle cx="623.91" cy="41.30" r="2.82" fill="#d4e8a2" stroke="#111" stroke-width="1.45"/>
<circle cx="584.15" cy="67.35" r="1.82" fill="#5cb6aa" stroke="#111" stroke-width="1.45"/>
<circle cx="604.29" cy="67.35" r="3.32" fill="#abdda4" stroke="#111" stroke-width="1.45"/>
<circle cx="624.27" cy="67.35" r="4.21" fill="#e3eda6" stroke="#111" stroke-width="1.45"/>
<circle cx="584.15" cy="93.40" r="1.82" fill="#56b1ac" stroke="#111" stroke-width="1.45"/>
<circle cx="604.29" cy="93.40" r="3.32" fill="#7bcaa5" stroke="#111" stroke-width="1.45"/>
<circle cx="623.65" cy="93.40" r="1.82" fill="#3c94b8" stroke="#111" stroke-width="1.45"/>
<circle cx="584.41" cy="119.45" r="2.82" fill="#deeba2" stroke="#111" stroke-width="1.45"/>
<circle cx="605.05" cy="119.45" r="6.23" fill="#e8efab" stroke="#111" stroke-width="1.45"/>
<circle cx="624.27" cy="119.45" r="4.21" fill="#c4e4a3" stroke="#111" stroke-width="1.45"/>
<circle cx="584.28" cy="145.50" r="2.32" fill="#f3f2b4" stroke="#111" stroke-width="1.45"/>
<circle cx="604.36" cy="145.50" r="3.57" fill="#8fd2a4" stroke="#111" stroke-width="1.45"/>
<circle cx="624.11" cy="145.50" r="3.57" fill="#c4e4a3" stroke="#111" stroke-width="1.45"/>
<circle cx="584.77" cy="171.55" r="4.21" fill="#fadf9a" stroke="#111" stroke-width="1.45"/>
<circle cx="605.18" cy="171.55" r="6.73" fill="#fbb972" stroke="#111" stroke-width="1.45"/>
<circle cx="624.67" cy="171.55" r="5.73" fill="#fadc95" stroke="#111" stroke-width="1.45"/>
<circle cx="585.49" cy="197.60" r="6.98" fill="#f78a56" stroke="#111" stroke-width="1.45"/>
<circle cx="605.37" cy="197.60" r="7.48" fill="#cf3b4e" stroke="#111" stroke-width="1.45"/>
<circle cx="625.03" cy="197.60" r="7.12" fill="#d53e4f" stroke="#111" stroke-width="1.45"/>
<circle cx="585.17" cy="223.65" r="5.73" fill="#fade98" stroke="#111" stroke-width="1.45"/>
<circle cx="605.05" cy="223.65" r="6.23" fill="#ebf0ad" stroke="#111" stroke-width="1.45"/>
<circle cx="624.67" cy="223.65" r="5.73" fill="#fadf9a" stroke="#111" stroke-width="1.45"/>
<circle cx="584.41" cy="249.70" r="2.82" fill="#deeba2" stroke="#111" stroke-width="1.45"/>
<circle cx="605.18" cy="249.70" r="6.73" fill="#f9e8a6" stroke="#111" stroke-width="1.45"/>
<circle cx="624.67" cy="249.70" r="5.73" fill="#f9ecad" stroke="#111" stroke-width="1.45"/>
<circle cx="584.86" cy="275.75" r="4.53" fill="#f9ecad" stroke="#111" stroke-width="1.45"/>
<circle cx="604.92" cy="275.75" r="5.73" fill="#e3eda6" stroke="#111" stroke-width="1.45"/>
<circle cx="624.36" cy="275.75" r="4.53" fill="#ebf0ad" stroke="#111" stroke-width="1.45"/>
<circle cx="585.49" cy="301.80" r="6.98" fill="#fbbd77" stroke="#111" stroke-width="1.45"/>
<circle cx="605.11" cy="301.80" r="6.48" fill="#f9ecad" stroke="#111" stroke-width="1.45"/>
<circle cx="624.52" cy="301.80" r="5.16" fill="#eef0af" stroke="#111" stroke-width="1.45"/>
<rect x="572.48" y="26.5" width="61.8" height="290.1" fill="none" stroke="#262626" stroke-width="1.15"/>
<rect x="581.98" y="316.6" width="3.8" height="10.1" fill="#111"/>
<text transform="translate(588.88,329.80) rotate(-90)" font-size="15.3" text-anchor="end" fill="#1a1a1a">FCGR3A</text>
<rect x="601.73" y="316.6" width="3.8" height="10.1" fill="#111"/>
<text transform="translate(608.63,329.80) rotate(-90)" font-size="15.3" text-anchor="end" fill="#1a1a1a">LST1</text>
<rect x="621.48" y="316.6" width="3.8" height="10.1" fill="#111"/>
<text transform="translate(628.38,329.80) rotate(-90)" font-size="15.3" text-anchor="end" fill="#1a1a1a">LILRB2</text>
<line x1="653.56" y1="26.5" x2="653.56" y2="316.6" stroke="#d4d4d4" stroke-width="1" stroke-dasharray="3.5 3"/>
<line x1="673.31" y1="26.5" x2="673.31" y2="316.6" stroke="#d4d4d4" stroke-width="1" stroke-dasharray="3.5 3"/>
<line x1="693.06" y1="26.5" x2="693.06" y2="316.6" stroke="#d4d4d4" stroke-width="1" stroke-dasharray="3.5 3"/>
<line x1="642.16" y1="41.30" x2="703.96" y2="41.30" stroke="#d4d4d4" stroke-width="1" stroke-dasharray="3.5 3"/>
<line x1="642.16" y1="67.35" x2="703.96" y2="67.35" stroke="#d4d4d4" stroke-width="1" stroke-dasharray="3.5 3"/>
<line x1="642.16" y1="93.40" x2="703.96" y2="93.40" stroke="#d4d4d4" stroke-width="1" stroke-dasharray="3.5 3"/>
<line x1="642.16" y1="119.45" x2="703.96" y2="119.45" stroke="#d4d4d4" stroke-width="1" stroke-dasharray="3.5 3"/>
<line x1="642.16" y1="145.50" x2="703.96" y2="145.50" stroke="#d4d4d4" stroke-width="1" stroke-dasharray="3.5 3"/>
<line x1="642.16" y1="171.55" x2="703.96" y2="171.55" stroke="#d4d4d4" stroke-width="1" stroke-dasharray="3.5 3"/>
<line x1="642.16" y1="197.60" x2="703.96" y2="197.60" stroke="#d4d4d4" stroke-width="1" stroke-dasharray="3.5 3"/>
<line x1="642.16" y1="223.65" x2="703.96" y2="223.65" stroke="#d4d4d4" stroke-width="1" stroke-dasharray="3.5 3"/>
<line x1="642.16" y1="249.70" x2="703.96" y2="249.70" stroke="#d4d4d4" stroke-width="1" stroke-dasharray="3.5 3"/>
<line x1="642.16" y1="275.75" x2="703.96" y2="275.75" stroke="#d4d4d4" stroke-width="1" stroke-dasharray="3.5 3"/>
<line x1="642.16" y1="301.80" x2="703.96" y2="301.80" stroke="#d4d4d4" stroke-width="1" stroke-dasharray="3.5 3"/>
<circle cx="653.96" cy="41.30" r="2.32" fill="#c4e4a3" stroke="#111" stroke-width="1.45"/>
<circle cx="673.84" cy="41.30" r="2.82" fill="#abdda4" stroke="#111" stroke-width="1.45"/>
<circle cx="694.04" cy="41.30" r="4.53" fill="#e3eda6" stroke="#111" stroke-width="1.45"/>
<circle cx="654.03" cy="67.35" r="2.57" fill="#facb85" stroke="#111" stroke-width="1.45"/>
<circle cx="673.58" cy="67.35" r="1.82" fill="#66c2a5" stroke="#111" stroke-width="1.45"/>
<circle cx="694.04" cy="67.35" r="4.53" fill="#eef0af" stroke="#111" stroke-width="1.45"/>
<circle cx="653.83" cy="93.40" r="1.82" fill="#435fa7" stroke="#111" stroke-width="1.45"/>
<circle cx="673.58" cy="93.40" r="1.82" fill="#4ca5b1" stroke="#111" stroke-width="1.45"/>
<circle cx="693.79" cy="93.40" r="3.57" fill="#479fb3" stroke="#111" stroke-width="1.45"/>
<circle cx="654.03" cy="119.45" r="2.57" fill="#eef0af" stroke="#111" stroke-width="1.45"/>
<circle cx="674.20" cy="119.45" r="4.21" fill="#ebf0ad" stroke="#111" stroke-width="1.45"/>
<circle cx="693.87" cy="119.45" r="3.89" fill="#8fd2a4" stroke="#111" stroke-width="1.45"/>
<circle cx="654.22" cy="145.50" r="3.32" fill="#f0f1b1" stroke="#111" stroke-width="1.45"/>
<circle cx="674.04" cy="145.50" r="3.57" fill="#f0f1b1" stroke="#111" stroke-width="1.45"/>
<circle cx="693.87" cy="145.50" r="3.89" fill="#96d5a4" stroke="#111" stroke-width="1.45"/>
<circle cx="653.90" cy="171.55" r="2.07" fill="#ebf0ad" stroke="#111" stroke-width="1.45"/>
<circle cx="674.37" cy="171.55" r="4.84" fill="#f8f4b8" stroke="#111" stroke-width="1.45"/>
<circle cx="693.95" cy="171.55" r="4.21" fill="#deeba2" stroke="#111" stroke-width="1.45"/>
<circle cx="654.03" cy="197.60" r="2.57" fill="#f9e8a6" stroke="#111" stroke-width="1.45"/>
<circle cx="674.79" cy="197.60" r="6.48" fill="#fbb46e" stroke="#111" stroke-width="1.45"/>
<circle cx="694.61" cy="197.60" r="6.73" fill="#f99d60" stroke="#111" stroke-width="1.45"/>
<circle cx="654.76" cy="223.65" r="5.38" fill="#f57e4f" stroke="#111" stroke-width="1.45"/>
<circle cx="674.87" cy="223.65" r="6.78" fill="#f89059" stroke="#111" stroke-width="1.45"/>
<circle cx="694.62" cy="223.65" r="6.78" fill="#f68452" stroke="#111" stroke-width="1.45"/>
<circle cx="654.03" cy="249.70" r="2.57" fill="#f9ecad" stroke="#111" stroke-width="1.45"/>
<circle cx="674.79" cy="249.70" r="6.48" fill="#fbb972" stroke="#111" stroke-width="1.45"/>
<circle cx="694.35" cy="249.70" r="5.73" fill="#ebf0ad" stroke="#111" stroke-width="1.45"/>
<circle cx="653.90" cy="275.75" r="2.07" fill="#eef0af" stroke="#111" stroke-width="1.45"/>
<circle cx="674.37" cy="275.75" r="4.84" fill="#f9ecad" stroke="#111" stroke-width="1.45"/>
<circle cx="694.41" cy="275.75" r="5.98" fill="#facb85" stroke="#111" stroke-width="1.45"/>
<circle cx="654.29" cy="301.80" r="3.57" fill="#f9e6a4" stroke="#111" stroke-width="1.45"/>
<circle cx="674.53" cy="301.80" r="5.48" fill="#f3f2b4" stroke="#111" stroke-width="1.45"/>
<circle cx="694.41" cy="301.80" r="5.98" fill="#fadc95" stroke="#111" stroke-width="1.45"/>
<rect x="642.16" y="26.5" width="61.8" height="290.1" fill="none" stroke="#262626" stroke-width="1.15"/>
<rect x="651.66" y="316.6" width="3.8" height="10.1" fill="#111"/>
<text transform="translate(658.56,329.80) rotate(-90)" font-size="15.3" text-anchor="end" fill="#1a1a1a">INHBA</text>
<rect x="671.41" y="316.6" width="3.8" height="10.1" fill="#111"/>
<text transform="translate(678.31,329.80) rotate(-90)" font-size="15.3" text-anchor="end" fill="#1a1a1a">IL1RN</text>
<rect x="691.16" y="316.6" width="3.8" height="10.1" fill="#111"/>
<text transform="translate(698.06,329.80) rotate(-90)" font-size="15.3" text-anchor="end" fill="#1a1a1a">CCL4</text>
<line x1="723.24" y1="26.5" x2="723.24" y2="316.6" stroke="#d4d4d4" stroke-width="1" stroke-dasharray="3.5 3"/>
<line x1="742.99" y1="26.5" x2="742.99" y2="316.6" stroke="#d4d4d4" stroke-width="1" stroke-dasharray="3.5 3"/>
<line x1="762.74" y1="26.5" x2="762.74" y2="316.6" stroke="#d4d4d4" stroke-width="1" stroke-dasharray="3.5 3"/>
<line x1="711.84" y1="41.30" x2="773.64" y2="41.30" stroke="#d4d4d4" stroke-width="1" stroke-dasharray="3.5 3"/>
<line x1="711.84" y1="67.35" x2="773.64" y2="67.35" stroke="#d4d4d4" stroke-width="1" stroke-dasharray="3.5 3"/>
<line x1="711.84" y1="93.40" x2="773.64" y2="93.40" stroke="#d4d4d4" stroke-width="1" stroke-dasharray="3.5 3"/>
<line x1="711.84" y1="119.45" x2="773.64" y2="119.45" stroke="#d4d4d4" stroke-width="1" stroke-dasharray="3.5 3"/>
<line x1="711.84" y1="145.50" x2="773.64" y2="145.50" stroke="#d4d4d4" stroke-width="1" stroke-dasharray="3.5 3"/>
<line x1="711.84" y1="171.55" x2="773.64" y2="171.55" stroke="#d4d4d4" stroke-width="1" stroke-dasharray="3.5 3"/>
<line x1="711.84" y1="197.60" x2="773.64" y2="197.60" stroke="#d4d4d4" stroke-width="1" stroke-dasharray="3.5 3"/>
<line x1="711.84" y1="223.65" x2="773.64" y2="223.65" stroke="#d4d4d4" stroke-width="1" stroke-dasharray="3.5 3"/>
<line x1="711.84" y1="249.70" x2="773.64" y2="249.70" stroke="#d4d4d4" stroke-width="1" stroke-dasharray="3.5 3"/>
<line x1="711.84" y1="275.75" x2="773.64" y2="275.75" stroke="#d4d4d4" stroke-width="1" stroke-dasharray="3.5 3"/>
<line x1="711.84" y1="301.80" x2="773.64" y2="301.80" stroke="#d4d4d4" stroke-width="1" stroke-dasharray="3.5 3"/>
<circle cx="723.90" cy="41.30" r="3.32" fill="#deeba2" stroke="#111" stroke-width="1.45"/>
<circle cx="743.52" cy="41.30" r="2.82" fill="#c4e4a3" stroke="#111" stroke-width="1.45"/>
<circle cx="763.34" cy="41.30" r="3.07" fill="#88d0a4" stroke="#111" stroke-width="1.45"/>
<circle cx="723.51" cy="67.35" r="1.82" fill="#66c2a5" stroke="#111" stroke-width="1.45"/>
<circle cx="743.26" cy="67.35" r="1.82" fill="#66c2a5" stroke="#111" stroke-width="1.45"/>
<circle cx="763.34" cy="67.35" r="3.07" fill="#7bcaa5" stroke="#111" stroke-width="1.45"/>
<circle cx="724.22" cy="93.40" r="4.53" fill="#b5e0a4" stroke="#111" stroke-width="1.45"/>
<circle cx="743.26" cy="93.40" r="1.82" fill="#51abaf" stroke="#111" stroke-width="1.45"/>
<circle cx="763.40" cy="93.40" r="3.32" fill="#82cda5" stroke="#111" stroke-width="1.45"/>
<circle cx="724.38" cy="119.45" r="5.16" fill="#f8f4b8" stroke="#111" stroke-width="1.45"/>
<circle cx="744.05" cy="119.45" r="4.84" fill="#ebf0ad" stroke="#111" stroke-width="1.45"/>
<circle cx="764.09" cy="119.45" r="5.98" fill="#eef0af" stroke="#111" stroke-width="1.45"/>
<circle cx="723.90" cy="145.50" r="3.32" fill="#abdda4" stroke="#111" stroke-width="1.45"/>
<circle cx="743.65" cy="145.50" r="3.32" fill="#ebf0ad" stroke="#111" stroke-width="1.45"/>
<circle cx="763.55" cy="145.50" r="3.89" fill="#c4e4a3" stroke="#111" stroke-width="1.45"/>
<circle cx="724.30" cy="171.55" r="4.84" fill="#e3eda6" stroke="#111" stroke-width="1.45"/>
<circle cx="744.13" cy="171.55" r="5.16" fill="#f8f4b8" stroke="#111" stroke-width="1.45"/>
<circle cx="764.09" cy="171.55" r="5.98" fill="#e3eda6" stroke="#111" stroke-width="1.45"/>
<circle cx="724.85" cy="197.60" r="6.98" fill="#fbb46e" stroke="#111" stroke-width="1.45"/>
<circle cx="744.47" cy="197.60" r="6.48" fill="#fada93" stroke="#111" stroke-width="1.45"/>
<circle cx="764.48" cy="197.60" r="7.48" fill="#faa363" stroke="#111" stroke-width="1.45"/>
<circle cx="724.46" cy="223.65" r="5.48" fill="#f8efb1" stroke="#111" stroke-width="1.45"/>
<circle cx="744.34" cy="223.65" r="5.98" fill="#fad48d" stroke="#111" stroke-width="1.45"/>
<circle cx="764.42" cy="223.65" r="7.23" fill="#fad18a" stroke="#111" stroke-width="1.45"/>
<circle cx="724.98" cy="249.70" r="7.48" fill="#e4584c" stroke="#111" stroke-width="1.45"/>
<circle cx="744.67" cy="249.70" r="7.23" fill="#f16c49" stroke="#111" stroke-width="1.45"/>
<circle cx="764.43" cy="249.70" r="7.28" fill="#f57e4f" stroke="#111" stroke-width="1.45"/>
<circle cx="724.72" cy="275.75" r="6.48" fill="#fada93" stroke="#111" stroke-width="1.45"/>
<circle cx="744.21" cy="275.75" r="5.48" fill="#fad48d" stroke="#111" stroke-width="1.45"/>
<circle cx="764.22" cy="275.75" r="6.48" fill="#fade98" stroke="#111" stroke-width="1.45"/>
<circle cx="724.05" cy="301.80" r="3.89" fill="#b5e0a4" stroke="#111" stroke-width="1.45"/>
<circle cx="743.88" cy="301.80" r="4.21" fill="#e3eda6" stroke="#111" stroke-width="1.45"/>
<circle cx="764.09" cy="301.80" r="5.98" fill="#e8efab" stroke="#111" stroke-width="1.45"/>
<rect x="711.84" y="26.5" width="61.8" height="290.1" fill="none" stroke="#262626" stroke-width="1.15"/>
<rect x="721.34" y="316.6" width="3.8" height="10.1" fill="#111"/>
<text transform="translate(728.24,329.80) rotate(-90)" font-size="15.3" text-anchor="end" fill="#1a1a1a">NLRP3</text>
<rect x="741.09" y="316.6" width="3.8" height="10.1" fill="#111"/>
<text transform="translate(747.99,329.80) rotate(-90)" font-size="15.3" text-anchor="end" fill="#1a1a1a">EREG</text>
<rect x="760.84" y="316.6" width="3.8" height="10.1" fill="#111"/>
<text transform="translate(767.74,329.80) rotate(-90)" font-size="15.3" text-anchor="end" fill="#1a1a1a">IL1B</text>
<line x1="792.92" y1="26.5" x2="792.92" y2="316.6" stroke="#d4d4d4" stroke-width="1" stroke-dasharray="3.5 3"/>
<line x1="812.67" y1="26.5" x2="812.67" y2="316.6" stroke="#d4d4d4" stroke-width="1" stroke-dasharray="3.5 3"/>
<line x1="832.42" y1="26.5" x2="832.42" y2="316.6" stroke="#d4d4d4" stroke-width="1" stroke-dasharray="3.5 3"/>
<line x1="781.52" y1="41.30" x2="843.32" y2="41.30" stroke="#d4d4d4" stroke-width="1" stroke-dasharray="3.5 3"/>
<line x1="781.52" y1="67.35" x2="843.32" y2="67.35" stroke="#d4d4d4" stroke-width="1" stroke-dasharray="3.5 3"/>
<line x1="781.52" y1="93.40" x2="843.32" y2="93.40" stroke="#d4d4d4" stroke-width="1" stroke-dasharray="3.5 3"/>
<line x1="781.52" y1="119.45" x2="843.32" y2="119.45" stroke="#d4d4d4" stroke-width="1" stroke-dasharray="3.5 3"/>
<line x1="781.52" y1="145.50" x2="843.32" y2="145.50" stroke="#d4d4d4" stroke-width="1" stroke-dasharray="3.5 3"/>
<line x1="781.52" y1="171.55" x2="843.32" y2="171.55" stroke="#d4d4d4" stroke-width="1" stroke-dasharray="3.5 3"/>
<line x1="781.52" y1="197.60" x2="843.32" y2="197.60" stroke="#d4d4d4" stroke-width="1" stroke-dasharray="3.5 3"/>
<line x1="781.52" y1="223.65" x2="843.32" y2="223.65" stroke="#d4d4d4" stroke-width="1" stroke-dasharray="3.5 3"/>
<line x1="781.52" y1="249.70" x2="843.32" y2="249.70" stroke="#d4d4d4" stroke-width="1" stroke-dasharray="3.5 3"/>
<line x1="781.52" y1="275.75" x2="843.32" y2="275.75" stroke="#d4d4d4" stroke-width="1" stroke-dasharray="3.5 3"/>
<line x1="781.52" y1="301.80" x2="843.32" y2="301.80" stroke="#d4d4d4" stroke-width="1" stroke-dasharray="3.5 3"/>
<circle cx="793.26" cy="41.30" r="2.07" fill="#d4e8a2" stroke="#111" stroke-width="1.45"/>
<circle cx="813.07" cy="41.30" r="2.32" fill="#f0f1b1" stroke="#111" stroke-width="1.45"/>
<circle cx="832.82" cy="41.30" r="2.32" fill="#d53e4f" stroke="#111" stroke-width="1.45"/>
<circle cx="793.26" cy="67.35" r="2.07" fill="#3c94b8" stroke="#111" stroke-width="1.45"/>
<circle cx="813.01" cy="67.35" r="2.07" fill="#b5e0a4" stroke="#111" stroke-width="1.45"/>
<circle cx="832.76" cy="67.35" r="2.07" fill="#d4e8a2" stroke="#111" stroke-width="1.45"/>
<circle cx="793.45" cy="93.40" r="2.82" fill="#f8efb1" stroke="#111" stroke-width="1.45"/>
<circle cx="813.01" cy="93.40" r="2.07" fill="#88d0a4" stroke="#111" stroke-width="1.45"/>
<circle cx="832.76" cy="93.40" r="2.07" fill="#66c2a5" stroke="#111" stroke-width="1.45"/>
<circle cx="793.32" cy="119.45" r="2.32" fill="#e6eea9" stroke="#111" stroke-width="1.45"/>
<circle cx="813.14" cy="119.45" r="2.57" fill="#eef0af" stroke="#111" stroke-width="1.45"/>
<circle cx="832.82" cy="119.45" r="2.32" fill="#ebf0ad" stroke="#111" stroke-width="1.45"/>
<circle cx="793.39" cy="145.50" r="2.57" fill="#deeba2" stroke="#111" stroke-width="1.45"/>
<circle cx="812.94" cy="145.50" r="1.82" fill="#b5e0a4" stroke="#111" stroke-width="1.45"/>
<circle cx="832.69" cy="145.50" r="1.82" fill="#abdda4" stroke="#111" stroke-width="1.45"/>
<circle cx="793.39" cy="171.55" r="2.57" fill="#f0f1b1" stroke="#111" stroke-width="1.45"/>
<circle cx="813.07" cy="171.55" r="2.32" fill="#eef0af" stroke="#111" stroke-width="1.45"/>
<circle cx="832.82" cy="171.55" r="2.32" fill="#f0f1b1" stroke="#111" stroke-width="1.45"/>
<circle cx="793.26" cy="197.60" r="2.07" fill="#e3eda6" stroke="#111" stroke-width="1.45"/>
<circle cx="813.01" cy="197.60" r="2.07" fill="#cae5a3" stroke="#111" stroke-width="1.45"/>
<circle cx="832.76" cy="197.60" r="2.07" fill="#bae1a3" stroke="#111" stroke-width="1.45"/>
<circle cx="793.32" cy="223.65" r="2.32" fill="#fada93" stroke="#111" stroke-width="1.45"/>
<circle cx="813.14" cy="223.65" r="2.57" fill="#f8f4b8" stroke="#111" stroke-width="1.45"/>
<circle cx="832.82" cy="223.65" r="2.32" fill="#f3f2b4" stroke="#111" stroke-width="1.45"/>
<circle cx="793.26" cy="249.70" r="2.07" fill="#deeba2" stroke="#111" stroke-width="1.45"/>
<circle cx="813.01" cy="249.70" r="2.07" fill="#deeba2" stroke="#111" stroke-width="1.45"/>
<circle cx="832.76" cy="249.70" r="2.07" fill="#deeba2" stroke="#111" stroke-width="1.45"/>
<circle cx="794.32" cy="275.75" r="6.17" fill="#e1524c" stroke="#111" stroke-width="1.45"/>
<circle cx="813.94" cy="275.75" r="5.67" fill="#d53e4f" stroke="#111" stroke-width="1.45"/>
<circle cx="833.88" cy="275.75" r="6.38" fill="#f99d60" stroke="#111" stroke-width="1.45"/>
<circle cx="793.26" cy="301.80" r="2.07" fill="#f0f1b1" stroke="#111" stroke-width="1.45"/>
<circle cx="813.40" cy="301.80" r="3.57" fill="#fbb06a" stroke="#111" stroke-width="1.45"/>
<circle cx="832.95" cy="301.80" r="2.82" fill="#f8f4b8" stroke="#111" stroke-width="1.45"/>
<rect x="781.52" y="26.5" width="61.8" height="290.1" fill="none" stroke="#262626" stroke-width="1.15"/>
<rect x="791.02" y="316.6" width="3.8" height="10.1" fill="#111"/>
<text transform="translate(797.92,329.80) rotate(-90)" font-size="15.3" text-anchor="end" fill="#1a1a1a">LYVE1</text>
<rect x="810.77" y="316.6" width="3.8" height="10.1" fill="#111"/>
<text transform="translate(817.67,329.80) rotate(-90)" font-size="15.3" text-anchor="end" fill="#1a1a1a">PLTP</text>
<rect x="830.52" y="316.6" width="3.8" height="10.1" fill="#111"/>
<text transform="translate(837.42,329.80) rotate(-90)" font-size="15.3" text-anchor="end" fill="#1a1a1a">SEPP1</text>
<line x1="862.60" y1="26.5" x2="862.60" y2="316.6" stroke="#d4d4d4" stroke-width="1" stroke-dasharray="3.5 3"/>
<line x1="882.35" y1="26.5" x2="882.35" y2="316.6" stroke="#d4d4d4" stroke-width="1" stroke-dasharray="3.5 3"/>
<line x1="902.10" y1="26.5" x2="902.10" y2="316.6" stroke="#d4d4d4" stroke-width="1" stroke-dasharray="3.5 3"/>
<line x1="851.20" y1="41.30" x2="913.00" y2="41.30" stroke="#d4d4d4" stroke-width="1" stroke-dasharray="3.5 3"/>
<line x1="851.20" y1="67.35" x2="913.00" y2="67.35" stroke="#d4d4d4" stroke-width="1" stroke-dasharray="3.5 3"/>
<line x1="851.20" y1="93.40" x2="913.00" y2="93.40" stroke="#d4d4d4" stroke-width="1" stroke-dasharray="3.5 3"/>
<line x1="851.20" y1="119.45" x2="913.00" y2="119.45" stroke="#d4d4d4" stroke-width="1" stroke-dasharray="3.5 3"/>
<line x1="851.20" y1="145.50" x2="913.00" y2="145.50" stroke="#d4d4d4" stroke-width="1" stroke-dasharray="3.5 3"/>
<line x1="851.20" y1="171.55" x2="913.00" y2="171.55" stroke="#d4d4d4" stroke-width="1" stroke-dasharray="3.5 3"/>
<line x1="851.20" y1="197.60" x2="913.00" y2="197.60" stroke="#d4d4d4" stroke-width="1" stroke-dasharray="3.5 3"/>
<line x1="851.20" y1="223.65" x2="913.00" y2="223.65" stroke="#d4d4d4" stroke-width="1" stroke-dasharray="3.5 3"/>
<line x1="851.20" y1="249.70" x2="913.00" y2="249.70" stroke="#d4d4d4" stroke-width="1" stroke-dasharray="3.5 3"/>
<line x1="851.20" y1="275.75" x2="913.00" y2="275.75" stroke="#d4d4d4" stroke-width="1" stroke-dasharray="3.5 3"/>
<line x1="851.20" y1="301.80" x2="913.00" y2="301.80" stroke="#d4d4d4" stroke-width="1" stroke-dasharray="3.5 3"/>
<circle cx="863.13" cy="41.30" r="2.82" fill="#d4e8a2" stroke="#111" stroke-width="1.45"/>
<circle cx="882.82" cy="41.30" r="2.57" fill="#e6eea9" stroke="#111" stroke-width="1.45"/>
<circle cx="903.32" cy="41.30" r="5.48" fill="#fadf9a" stroke="#111" stroke-width="1.45"/>
<circle cx="862.94" cy="67.35" r="2.07" fill="#4ca5b1" stroke="#111" stroke-width="1.45"/>
<circle cx="882.69" cy="67.35" r="2.07" fill="#66c2a5" stroke="#111" stroke-width="1.45"/>
<circle cx="902.44" cy="67.35" r="2.07" fill="#66c2a5" stroke="#111" stroke-width="1.45"/>
<circle cx="863.26" cy="93.40" r="3.32" fill="#96d5a4" stroke="#111" stroke-width="1.45"/>
<circle cx="882.95" cy="93.40" r="3.07" fill="#88d0a4" stroke="#111" stroke-width="1.45"/>
<circle cx="902.44" cy="93.40" r="2.07" fill="#abdda4" stroke="#111" stroke-width="1.45"/>
<circle cx="863.95" cy="119.45" r="5.98" fill="#fae19c" stroke="#111" stroke-width="1.45"/>
<circle cx="883.70" cy="119.45" r="5.98" fill="#f9e6a4" stroke="#111" stroke-width="1.45"/>
<circle cx="902.50" cy="119.45" r="2.32" fill="#e6eea9" stroke="#111" stroke-width="1.45"/>
<circle cx="863.26" cy="145.50" r="3.32" fill="#e3eda6" stroke="#111" stroke-width="1.45"/>
<circle cx="883.08" cy="145.50" r="3.57" fill="#e6eea9" stroke="#111" stroke-width="1.45"/>
<circle cx="902.44" cy="145.50" r="2.07" fill="#abdda4" stroke="#111" stroke-width="1.45"/>
<circle cx="863.07" cy="171.55" r="2.57" fill="#deeba2" stroke="#111" stroke-width="1.45"/>
<circle cx="882.95" cy="171.55" r="3.07" fill="#cfe7a3" stroke="#111" stroke-width="1.45"/>
<circle cx="902.50" cy="171.55" r="2.32" fill="#e3eda6" stroke="#111" stroke-width="1.45"/>
<circle cx="863.33" cy="197.60" r="3.57" fill="#e3eda6" stroke="#111" stroke-width="1.45"/>
<circle cx="883.41" cy="197.60" r="4.84" fill="#e6eea9" stroke="#111" stroke-width="1.45"/>
<circle cx="902.50" cy="197.60" r="2.32" fill="#f8f4b8" stroke="#111" stroke-width="1.45"/>
<circle cx="863.66" cy="223.65" r="4.84" fill="#fadc95" stroke="#111" stroke-width="1.45"/>
<circle cx="883.33" cy="223.65" r="4.53" fill="#f9e4a1" stroke="#111" stroke-width="1.45"/>
<circle cx="902.76" cy="223.65" r="3.32" fill="#f8efb1" stroke="#111" stroke-width="1.45"/>
<circle cx="863.00" cy="249.70" r="2.32" fill="#c4e4a3" stroke="#111" stroke-width="1.45"/>
<circle cx="882.82" cy="249.70" r="2.57" fill="#b5e0a4" stroke="#111" stroke-width="1.45"/>
<circle cx="902.44" cy="249.70" r="2.07" fill="#c4e4a3" stroke="#111" stroke-width="1.45"/>
<circle cx="864.34" cy="275.75" r="7.48" fill="#f78955" stroke="#111" stroke-width="1.45"/>
<circle cx="884.09" cy="275.75" r="7.48" fill="#f78955" stroke="#111" stroke-width="1.45"/>
<circle cx="902.99" cy="275.75" r="4.21" fill="#fac67f" stroke="#111" stroke-width="1.45"/>
<circle cx="864.17" cy="301.80" r="6.83" fill="#f5774b" stroke="#111" stroke-width="1.45"/>
<circle cx="883.94" cy="301.80" r="6.88" fill="#f5774b" stroke="#111" stroke-width="1.45"/>
<circle cx="903.52" cy="301.80" r="6.23" fill="#d8434e" stroke="#111" stroke-width="1.45"/>
<rect x="851.20" y="26.5" width="61.8" height="290.1" fill="none" stroke="#262626" stroke-width="1.15"/>
<rect x="860.70" y="316.6" width="3.8" height="10.1" fill="#111"/>
<text transform="translate(867.60,329.80) rotate(-90)" font-size="15.3" text-anchor="end" fill="#1a1a1a">C1QC</text>
<rect x="880.45" y="316.6" width="3.8" height="10.1" fill="#111"/>
<text transform="translate(887.35,329.80) rotate(-90)" font-size="15.3" text-anchor="end" fill="#1a1a1a">C1QA</text>
<rect x="900.20" y="316.6" width="3.8" height="10.1" fill="#111"/>
<text transform="translate(907.10,329.80) rotate(-90)" font-size="15.3" text-anchor="end" fill="#1a1a1a">APOE</text>
<rect x="155.00" y="28.00" width="60.80" height="28.10" fill="none" stroke="#00b0f0" stroke-width="3.8"/>
<rect x="224.25" y="53.90" width="61.35" height="27.70" fill="none" stroke="#00b0f0" stroke-width="3.8"/>
<rect x="293.85" y="79.40" width="61.25" height="28.10" fill="none" stroke="#00b0f0" stroke-width="3.8"/>
<rect x="363.75" y="105.30" width="61.35" height="28.20" fill="none" stroke="#00b0f0" stroke-width="3.8"/>
<rect x="432.90" y="131.70" width="61.10" height="28.00" fill="none" stroke="#00b0f0" stroke-width="3.8"/>
<rect x="503.15" y="157.85" width="60.85" height="27.65" fill="none" stroke="#00b0f0" stroke-width="3.8"/>
<rect x="573.65" y="183.85" width="61.05" height="27.75" fill="none" stroke="#00b0f0" stroke-width="3.8"/>
<rect x="642.20" y="209.65" width="61.40" height="27.85" fill="none" stroke="#00b0f0" stroke-width="3.8"/>
<rect x="712.80" y="235.85" width="61.20" height="27.85" fill="none" stroke="#00b0f0" stroke-width="3.8"/>
<rect x="781.95" y="261.85" width="60.95" height="27.85" fill="none" stroke="#00b0f0" stroke-width="3.8"/>
<rect x="851.15" y="287.85" width="61.40" height="28.05" fill="none" stroke="#00b0f0" stroke-width="3.8"/>
<defs><linearGradient id="g" x1="0" y1="1" x2="0" y2="0">
<stop offset="0.00" stop-color="#4A4E9E"/>
<stop offset="0.10" stop-color="#3288BD"/>
<stop offset="0.20" stop-color="#66C2A5"/>
<stop offset="0.30" stop-color="#ABDDA4"/>
<stop offset="0.40" stop-color="#DEEBA2"/>
<stop offset="0.50" stop-color="#F8F4B8"/>
<stop offset="0.60" stop-color="#FADB94"/>
<stop offset="0.70" stop-color="#FBB06A"/>
<stop offset="0.80" stop-color="#F47148"/>
<stop offset="0.90" stop-color="#D53E4F"/>
<stop offset="1.00" stop-color="#94234A"/>
</linearGradient></defs>
<text transform="translate(943.90,37.60) scale(0.97,1)" font-size="15.8" fill="#1a1a1a">Expression</text>
<rect x="943.7" y="46.9" width="14.8" height="110.8" fill="url(#g)" stroke="#444" stroke-width="1"/>
<line x1="943.7" y1="67.5" x2="946.7" y2="67.5" stroke="#333" stroke-width="1"/>
<line x1="955.5" y1="67.5" x2="958.5" y2="67.5" stroke="#333" stroke-width="1"/>
<text transform="translate(966.20,73.50) scale(0.88,1)" font-size="17" fill="#1a1a1a">2</text>
<line x1="943.7" y1="87.1" x2="946.7" y2="87.1" stroke="#333" stroke-width="1"/>
<line x1="955.5" y1="87.1" x2="958.5" y2="87.1" stroke="#333" stroke-width="1"/>
<text transform="translate(966.20,93.10) scale(0.88,1)" font-size="17" fill="#1a1a1a">1</text>
<line x1="943.7" y1="106.6" x2="946.7" y2="106.6" stroke="#333" stroke-width="1"/>
<line x1="955.5" y1="106.6" x2="958.5" y2="106.6" stroke="#333" stroke-width="1"/>
<text transform="translate(966.20,112.60) scale(0.88,1)" font-size="17" fill="#1a1a1a">0</text>
<line x1="943.7" y1="126.1" x2="946.7" y2="126.1" stroke="#333" stroke-width="1"/>
<line x1="955.5" y1="126.1" x2="958.5" y2="126.1" stroke="#333" stroke-width="1"/>
<text transform="translate(966.20,132.10) scale(0.88,1)" font-size="17" fill="#1a1a1a">−1</text>
<line x1="943.7" y1="145.5" x2="946.7" y2="145.5" stroke="#333" stroke-width="1"/>
<line x1="955.5" y1="145.5" x2="958.5" y2="145.5" stroke="#333" stroke-width="1"/>
<text transform="translate(966.20,151.50) scale(0.88,1)" font-size="17" fill="#1a1a1a">−2</text>
<text transform="translate(944.00,198.00) scale(0.98,1)" font-size="15.6" fill="#1a1a1a">Percentage</text>
<circle cx="956.2" cy="218.6" r="2.00" fill="none" stroke="#1a1a1a" stroke-width="1.4"/>
<text transform="translate(973.30,224.40) scale(0.92,1)" font-size="16.3" fill="#1a1a1a">0.0</text>
<circle cx="956.2" cy="240.8" r="4.55" fill="none" stroke="#1a1a1a" stroke-width="1.4"/>
<text transform="translate(973.30,246.60) scale(0.92,1)" font-size="16.3" fill="#1a1a1a">0.2</text>
<circle cx="956.2" cy="263.1" r="5.35" fill="none" stroke="#1a1a1a" stroke-width="1.4"/>
<text transform="translate(973.30,268.90) scale(0.92,1)" font-size="16.3" fill="#1a1a1a">0.4</text>
<circle cx="956.2" cy="285.2" r="6.45" fill="none" stroke="#1a1a1a" stroke-width="1.4"/>
<text transform="translate(973.30,291.00) scale(0.92,1)" font-size="16.3" fill="#1a1a1a">0.6</text>
<circle cx="956.2" cy="307" r="6.95" fill="none" stroke="#1a1a1a" stroke-width="1.4"/>
<text transform="translate(973.30,312.80) scale(0.92,1)" font-size="16.3" fill="#1a1a1a">0.8</text>
</svg></body></html>
